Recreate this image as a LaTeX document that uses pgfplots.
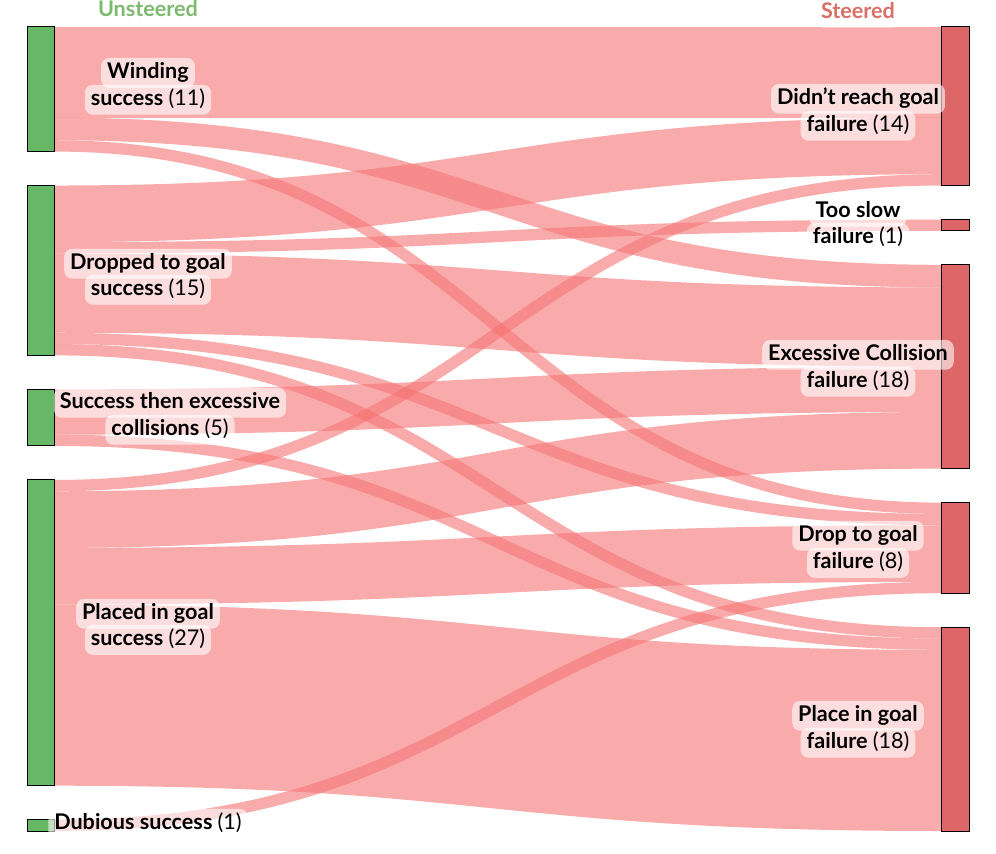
\documentclass[border=0pt]{standalone}
\usepackage{pgfplots}
\pgfplotsset{compat=1.18}
\usepackage{fontspec}
\setmainfont{Lato}
\definecolor{band}{RGB}{245,115,115}
\definecolor{ngreen}{RGB}{102,183,102}
\definecolor{nred}{RGB}{221,102,102}
\definecolor{hgreen}{RGB}{125,185,110}
\definecolor{hred}{RGB}{217,112,106}
\tikzset{lbl/.style={fill=white, fill opacity=0.6, text opacity=1,
  rounded corners=4pt, inner xsep=3pt, inner ysep=2.3pt,
  text height=7.9pt, text depth=2.4pt, font=\fontsize{10.8}{13}\selectfont\bfseries}}
% one flow unit = 5.662pt; \link{source top}{target top}{value}
\newcommand{\link}[3]{%
  \draw[band, draw opacity=0.6, line width=#3*5.662pt]
    (axis cs:54,{#1+#3/2}) .. controls (axis cs:497.5,{#1+#3/2})
    and (axis cs:497.5,{#2+#3/2}) .. (axis cs:941,{#2+#3/2});}
\newcommand{\lnode}[3]{\filldraw[fill=#3, draw=black, line width=0.5pt]
  (axis cs:27,#1) rectangle (axis cs:54,#2);}
\newcommand{\rnode}[3]{\filldraw[fill=#3, draw=black, line width=0.5pt]
  (axis cs:941,#1) rectangle (axis cs:969,#2);}
\begin{document}
\begin{tikzpicture}
\begin{axis}[
    name=ax,
    scale only axis,
    width=498pt, height=427pt,
    xmin=0, xmax=996,
    ymin=-2.384, ymax=73.03,
    y dir=reverse,
    hide axis,
    clip=false,
]
% links
\link{0}{0}{8}
\link{8}{21}{2}
\link{10}{42}{1}
\link{14}{8}{5}
\link{19}{17}{1}
\link{20}{23}{7}
\link{27}{43}{1}
\link{28}{53}{1}
\link{32}{30}{4}
\link{36}{54}{1}
\link{40}{13}{1}
\link{41}{34}{5}
\link{46}{44}{5}
\link{51}{55}{16}
\link{70}{49}{1}
% nodes
\lnode{0}{11}{ngreen}
\lnode{14}{29}{ngreen}
\lnode{32}{37}{ngreen}
\lnode{40}{67}{ngreen}
\lnode{70}{71}{ngreen}
\rnode{0}{14}{nred}
\rnode{17}{18}{nred}
\rnode{21}{39}{nred}
\rnode{42}{50}{nred}
\rnode{53}{71}{nred}
% labels
\node[lbl, fill opacity=0, text=hgreen] at (axis cs:148,-1.42) {Unsteered};
\node[lbl, text=hred] at (axis cs:858,-1.25) {Steered};
\node[lbl] at (axis cs:148,4.05) {Winding};
\node[lbl] at (axis cs:148,6.43) {success \mdseries(11)};
\node[lbl] at (axis cs:148,20.91) {Dropped to goal};
\node[lbl] at (axis cs:148,23.21) {success \mdseries(15)};
\node[lbl] at (axis cs:170,33.19) {Success then excessive};
\node[lbl] at (axis cs:170,35.57) {collisions \mdseries(5)};
\node[lbl] at (axis cs:148,51.82) {Placed in goal};
\node[lbl] at (axis cs:148,54.12) {success \mdseries(27)};
\node[lbl] at (axis cs:148,70.36) {Dubious success \mdseries(1)};
\node[lbl] at (axis cs:858,6.34) {Didn’t reach goal};
\node[lbl] at (axis cs:858,8.73) {failure \mdseries(14)};
\node[lbl] at (axis cs:858,16.32) {Too slow};
\node[lbl] at (axis cs:858,18.62) {failure \mdseries(1)};
\node[lbl] at (axis cs:858,28.95) {Excessive Collision};
\node[lbl] at (axis cs:858,31.33) {failure \mdseries(18)};
\node[lbl] at (axis cs:858,44.93) {Drop to goal};
\node[lbl] at (axis cs:858,47.32) {failure \mdseries(8)};
\node[lbl] at (axis cs:858,60.83) {Place in goal};
\node[lbl] at (axis cs:858,63.21) {failure \mdseries(18)};
\end{axis}
\pgfresetboundingbox
\path[use as bounding box] (ax.south west) rectangle (ax.north east);
\end{tikzpicture}
\end{document}
